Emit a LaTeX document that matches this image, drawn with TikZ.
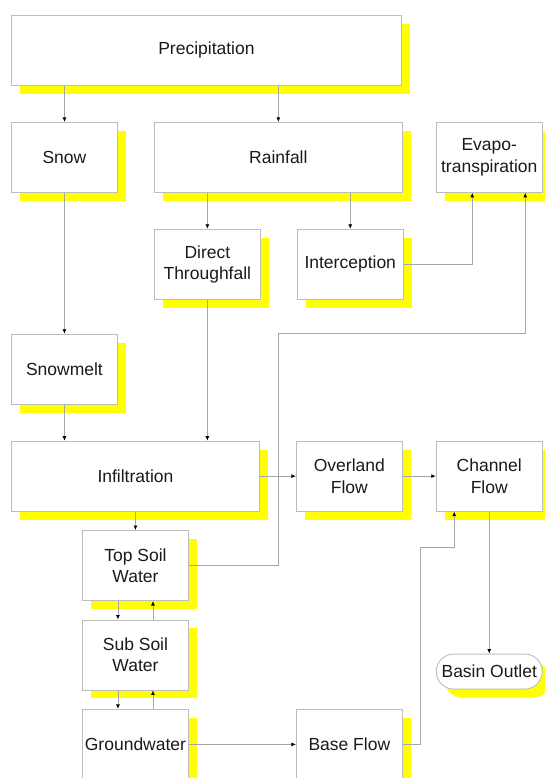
\documentclass[tikz,border=0pt]{standalone}
\usepackage{fontspec}
\setmainfont{Liberation Sans}
\usepackage{tikz}
\usetikzlibrary{arrows.meta,positioning,shadows,shapes.misc}
\definecolor{boxgrey}{HTML}{BDBDBD}
\definecolor{linegrey}{HTML}{A6A6A6}
\definecolor{shadowyellow}{HTML}{FFFF00}
\definecolor{textgrey}{HTML}{1A1A1A}

\begin{document}
\begin{tikzpicture}[
  x=1pt, y=1pt,
  node distance=36pt and 36pt,
  box/.style={draw=boxgrey,line width=0.9pt,fill=white,text=textgrey,align=center,
              inner sep=0pt,minimum width=106pt,minimum height=70pt,
              font=\fontsize{17.5}{21.5}\selectfont,
              general shadow={fill=shadowyellow,shadow xshift=8.5pt,shadow yshift=-8.5pt}},
  wide/.style={box,minimum width=#1},
  arr/.style={-{Latex[length=4.5pt,width=4pt,color=black]},line width=0.8pt,linegrey}
]
  \useasboundingbox (0,0) rectangle (544,-778);
  % top rows
  \node[wide=390pt,anchor=north west] (precip) at (11,-15) {Precipitation};
  \node[box,below right=36pt and 0pt of precip.south west] (snow) {Snow};
  \node[wide=248pt,right=36pt of snow] (rain) {Rainfall};
  \node[box,right=33pt of rain] (evapo) {Evapo-\\transpiration};
  \node[box,below right=36pt and 0pt of rain.south west] (direct) {Direct\\Throughfall};
  \node[box,right=36pt of direct] (intercept) {Interception};
  \node[box,below=141pt of snow] (snowmelt) {Snowmelt};
  % middle row
  \node[wide=248pt,below right=36pt and 0pt of snowmelt.south west] (infil) {Infiltration};
  \node[box,right=36pt of infil] (overland) {Overland\\Flow};
  \node[box,right=33pt of overland] (channel) {Channel\\Flow};
  % soil column
  \node[box,below right=18.5pt and 71pt of infil.south west] (topsoil) {Top Soil\\Water};
  \node[box,below=18.5pt of topsoil] (subsoil) {Sub Soil\\Water};
  \node[box,below=18.5pt of subsoil] (ground) {Groundwater};
  \node[box,right=107pt of ground] (base) {Base Flow};
  \node[box,rounded rectangle,minimum height=35pt,below=142pt of channel] (outlet) {Basin Outlet};
  % turning points
  \coordinate (etp) at ([xshift=36pt]evapo.south);
  \coordinate (soilturn) at (rain.south |- snowmelt.north);
  \coordinate (chin) at ([xshift=-35pt]channel.south);

  \draw[arr] (precip.south -| snow.north) -- (snow.north);
  \draw[arr] (precip.south -| rain.north) -- (rain.north);
  \draw[arr] (rain.south -| direct.north) -- (direct.north);
  \draw[arr] (rain.south -| intercept.north) -- (intercept.north);
  \draw[arr] (intercept.east) -| ([xshift=-17pt]evapo.south);
  \draw[arr] (snow.south) -- (snowmelt.north);
  \draw[arr] (snowmelt.south) -- (snowmelt.south |- infil.north);
  \draw[arr] (direct.south) -- (direct.south |- infil.north);
  \draw[arr] (infil.east) -- (overland.west);
  \draw[arr] (overland.east) -- (channel.west);
  \draw[arr] (infil.south -| topsoil.north) -- (topsoil.north);
  \draw[arr] ([xshift=-17.5pt]topsoil.south) -- ([xshift=-17.5pt]subsoil.north);
  \draw[arr] ([xshift=17.5pt]subsoil.north) -- ([xshift=17.5pt]topsoil.south);
  \draw[arr] ([xshift=-17.5pt]subsoil.south) -- ([xshift=-17.5pt]ground.north);
  \draw[arr] ([xshift=17.5pt]ground.north) -- ([xshift=17.5pt]subsoil.south);
  \draw[arr] (topsoil.east) -| (soilturn) -| (etp);
  \draw[arr] (ground.east) -- (base.west);
  \draw[arr] (base.east) -- ++(18,0) |- ([yshift=-36pt]chin) -- (chin);
  \draw[arr] (channel.south) -- (outlet.north);
\end{tikzpicture}
\end{document}
